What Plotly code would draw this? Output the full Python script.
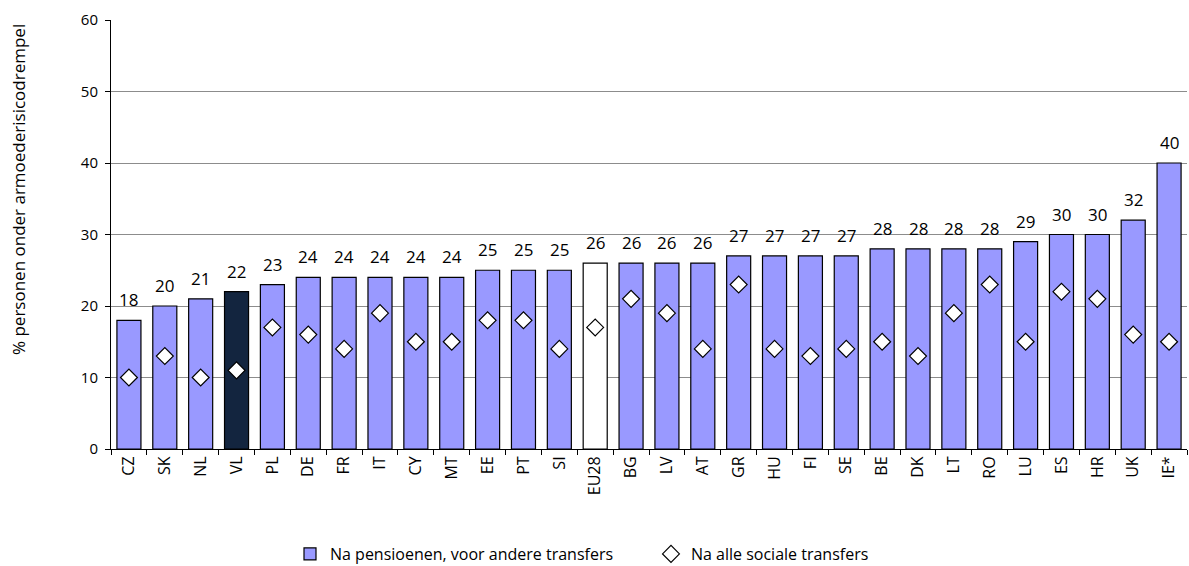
import plotly.graph_objects as go

categories = ["CZ", "SK", "NL", "VL", "PL", "DE", "FR", "IT", "CY", "MT", "EE", "PT", "SI", "EU28",
              "BG", "LV", "AT", "GR", "HU", "FI", "SE", "BE", "DK", "LT", "RO", "LU", "ES", "HR", "UK", "IE*"]
na_pensioenen = [18, 20, 21, 22, 23, 24, 24, 24, 24, 24, 25, 25, 25, 26,
                 26, 26, 26, 27, 27, 27, 27, 28, 28, 28, 28, 29, 30, 30, 32, 40]
na_alle = [10, 13, 10, 11, 17, 16, 14, 19, 15, 15, 18, 18, 14, 17,
           21, 19, 14, 23, 14, 13, 14, 15, 13, 19, 23, 15, 22, 21, 16, 15]
y_title = "% personen onder armoederisicodrempel"

FONT = "Open Sans"
colors = []
for c in categories:
    if c == "VL":
        colors.append("#13253F")
    elif c == "EU28":
        colors.append("#FFFFFF")
    else:
        colors.append("#9999FF")

L, R, T, B = 111, 2, 20, 117
W, H = 1189, 566
PW = W - L - R
PH = H - T - B

fig = go.Figure()
fig.add_trace(go.Bar(
    x=categories, y=na_pensioenen, name="Na pensioenen, voor andere transfers",
    marker=dict(color=colors, line=dict(color="#000000", width=1.2)),
))
fig.add_trace(go.Scatter(
    x=categories, y=na_alle, name="Na alle sociale transfers", mode="markers",
    marker=dict(symbol="diamond", size=13, color="#FFFFFF", line=dict(color="#000000", width=1.2)),
))

# value labels above the bars
for c, v in zip(categories, na_pensioenen):
    fig.add_annotation(
        x=c, y=v, xref="x", yref="y", text=str(v), showarrow=False,
        xanchor="center", yanchor="bottom", yshift=7,
        font=dict(family=FONT, size=17, color="#000000"),
    )

fig.update_layout(
    width=W, height=H,
    margin=dict(l=L, r=R, t=T, b=B, autoexpand=False),
    plot_bgcolor="#FFFFFF", paper_bgcolor="#FFFFFF",
    bargap=0.33,
    showlegend=True,
    legend=dict(orientation="h", x=(290 - L) / PW, xanchor="left",
                y=-(551 - 14 - (H - B)) / PH, yanchor="top",
                font=dict(family=FONT, size=16, color="#000000"),
                itemwidth=30, entrywidth=316, entrywidthmode="pixels", traceorder="normal"),
    font=dict(family=FONT, color="#000000"),
)
fig.update_xaxes(
    type="category", range=[-0.5, len(categories) - 0.5], automargin=False,
    showline=True, linecolor="#000000", linewidth=1,
    ticks="outside", tickson="boundaries", ticklen=5, tickcolor="#000000",
    tickangle=-90, tickfont=dict(family=FONT, size=16, color="#000000"),
    showgrid=False,
)
fig.update_yaxes(
    range=[0, 60], tickvals=[0, 10, 20, 30, 40, 50, 60], automargin=False,
    showline=True, linecolor="#000000", linewidth=1,
    ticks="outside", ticklen=5, tickcolor="#000000", ticklabelstandoff=4,
    tickfont=dict(family=FONT, size=15, color="#000000"),
    showgrid=True, gridcolor="#8C8C8C", gridwidth=1,
    zeroline=False,
)
fig.add_annotation(
    text=y_title, xref="paper", yref="paper",
    x=(18 - L) / PW, y=(449 - 190) / PH, xanchor="center", yanchor="middle",
    textangle=-90, showarrow=False,
    font=dict(family=FONT, size=17, color="#000000"),
)

fig.write_html(
    "out.html",
    config={"displayModeBar": False},
    post_script="document.body.style.margin='0';document.body.style.overflow='hidden';",
)
